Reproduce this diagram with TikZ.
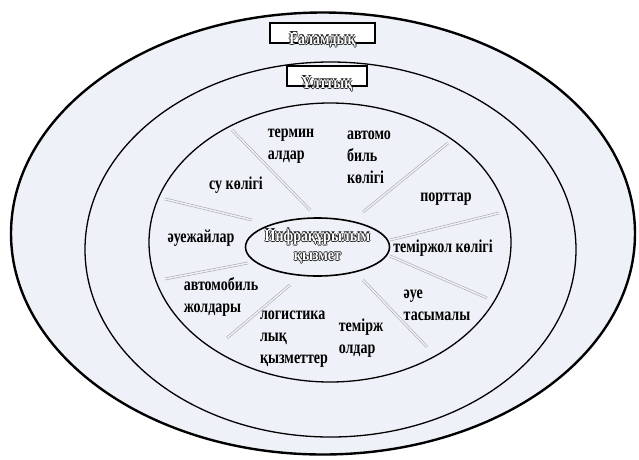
\documentclass[tikz,border=0pt]{standalone}
\usepackage{fontspec}
\setmainfont{Liberation Serif}
\definecolor{bgfill}{RGB}{238,241,247}
\definecolor{spokegray}{RGB}{165,165,170}
\newcommand{\glw}[1]{%
 \makebox[0pt]{\raisebox{0.9pt}{\textcolor{black!85}{#1}}}%
 \makebox[0pt]{\raisebox{-0.9pt}{\textcolor{black!85}{#1}}}%
 \makebox[0pt]{\hspace*{1.8pt}\textcolor{black!85}{#1}}%
 \makebox[0pt]{\hspace*{-1.8pt}\textcolor{black!85}{#1}}%
 \makebox[0pt]{\textcolor{white}{#1}}}
\tikzset{
  ring/.style={draw=black, line width=1.3pt},
  spoke/.style={draw=spokegray, line width=0.55pt, double=bgfill, double distance=1.5pt},
  lbl/.style={font=\fontsize{14}{17}\selectfont\bfseries, align=left, inner sep=0pt, yscale=1.3, transform shape},
  glowlbl/.style={font=\fontsize{14}{17}\selectfont\bfseries, inner sep=0pt, yscale=1.2, transform shape},
  boxstyle/.style={draw=black, line width=1.4pt, fill=white}
}
\begin{document}
\begin{tikzpicture}[x=1pt,y=-1pt]
\useasboundingbox (0,0) rectangle (639,459);
\fill[white] (0,0) rectangle (639,459);
% rings
\filldraw[fill=bgfill, draw=black, line width=2.4pt] (323,233.5) ellipse [x radius=312, y radius=221];
\draw[ring] (330.5,249.5) ellipse [x radius=245.5, y radius=187.5];
\draw[ring] (330,242.5) ellipse [x radius=181, y radius=139.5];
% spokes
\draw[spoke] (331,110) -- (331,222);
\draw[spoke] (232,130) -- (310,210);
\draw[spoke] (165,199) -- (252,220);
\draw[spoke] (165,279) -- (248,263);
\draw[spoke] (227,338) -- (290,285);
\draw[spoke] (330,285) -- (330,367);
\draw[spoke] (363,280) -- (427,347);
\draw[spoke] (390,256) -- (487,298);
\draw[spoke] (390,240) -- (499,213);
\draw[spoke] (363,212) -- (448,143);
% centre
\draw[line width=1.6pt, fill=bgfill] (317.5,247) ellipse [x radius=72, y radius=29];
\node[glowlbl] (core1) at (317.5,237) {\glw{Инфрақұрылым}};
\node[glowlbl] (core2) at (317.5,258) {\glw{қызмет}};
% boxes
\node[boxstyle, minimum width=105pt, minimum height=20pt, inner sep=0pt] (box1) at (322.5,33) {};
\node[glowlbl] (box1t) at (322.5,40) {\glw{Ғаламдық}};
\node[boxstyle, minimum width=80pt, minimum height=20pt, inner sep=0pt] (box2) at (327,76) {};
\node[glowlbl] (box2t) at (327,84) {\glw{Ұлттық}};
% labels
\node[lbl] (term) at (291,146) {термин\\алдар};
\node[lbl] (avto) at (369,157) {автомо\\биль\\көлігі};
\node[lbl] (su) at (236,185) {су көлігі};
\node[lbl] (port) at (446,199) {порттар};
\node[lbl] (aue) at (201,238) {әуежайлар};
\node[lbl] (temk) at (443,248) {теміржол көлігі};
\node[lbl] (auet) at (437,305) {әуе\\тасымалы};
\node[lbl] (temj) at (361,338) {теміpж\\олдар};
\node[lbl] (log) at (294,339) {логистика\\лық\\қызметтер};
\node[lbl] (avtoj) at (221,297) {автомобиль\\жолдары};
\end{tikzpicture}
\end{document}
